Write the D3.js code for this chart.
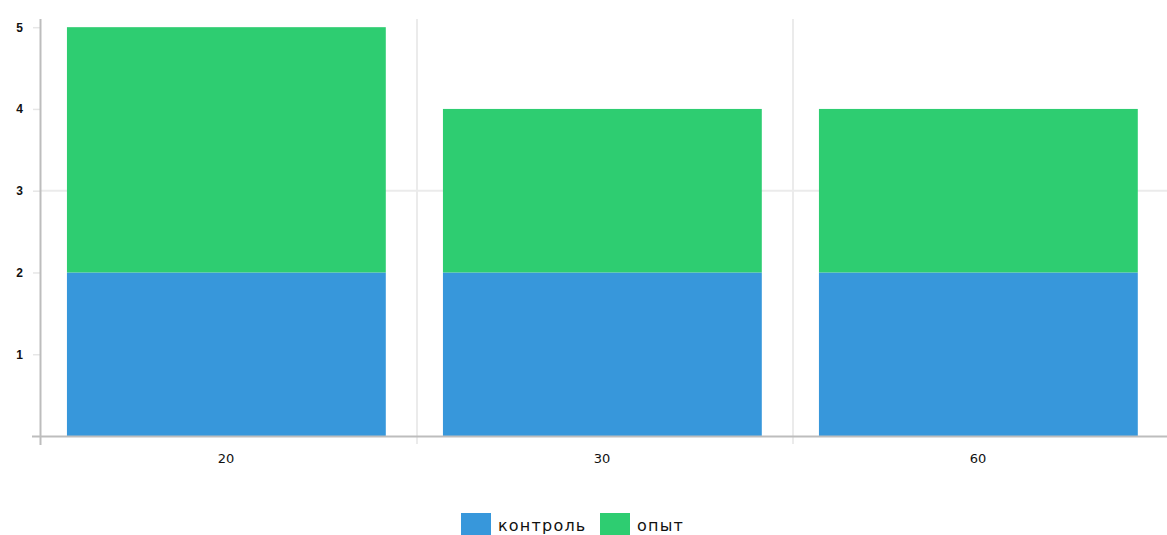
<!DOCTYPE html>
<html><head><meta charset="utf-8">
<script src="https://cdn.jsdelivr.net/npm/d3@7"></script>
<style>body{margin:0;background:#fff;}svg{display:block;font-family:"Liberation Sans",Arial,sans-serif;}</style>
</head><body>
<svg id="c" width="1167" height="535"></svg>
<script>
const categories = ["20", "30", "60"];
const seriesNames = ["контроль", "опыт"];
const control = [2, 2, 2];
const experiment = [3, 2, 2];
const yTicks = [1, 2, 3, 4, 5];
const colors = ["#3797db", "#2ecd71"];

const svg = d3.select("#c");
const x = d3.scaleBand().domain(categories).range([41, 1169]).padding(0);
const y = d3.scaleLinear().domain([0, 5.1]).range([436, 19]);

const rows = categories.map((c, i) => ({cat: c, "контроль": control[i], "опыт": experiment[i]}));
const stacked = d3.stack().keys(seriesNames)(rows);

// vertical grid between categories
svg.append("g").selectAll("line").data(categories.slice(1)).join("line")
  .attr("x1", d => x(d)).attr("x2", d => x(d))
  .attr("y1", 19).attr("y2", 444)
  .attr("stroke", "#ebebeb").attr("stroke-width", 2);
// horizontal grid
svg.append("line").attr("x1", 41).attr("x2", 1167).attr("y1", y(3)).attr("y2", y(3))
  .attr("stroke", "#ebebeb").attr("stroke-width", 2);

const bw = x.bandwidth();
svg.append("g").selectAll("g").data(stacked).join("g")
  .attr("fill", (d, i) => colors[i])
  .selectAll("rect").data(d => d).join("rect")
  .attr("x", d => x(d.data.cat) + bw * 0.069)
  .attr("width", bw * 0.848)
  .attr("y", d => y(d[1]))
  .attr("height", d => y(d[0]) - y(d[1]));

// y axis
const yAxis = svg.append("g").attr("transform", "translate(41,0)")
  .call(d3.axisLeft(y).tickValues(yTicks).tickSize(8).tickPadding(10).tickFormat(d3.format("d")));
yAxis.select(".domain").remove();
yAxis.selectAll(".tick line").attr("stroke", "#e6e6e6").attr("stroke-width", 1.5);
yAxis.selectAll("text").attr("fill", "#111").attr("font-size", 12).attr("font-weight", "bold");
svg.append("line").attr("x1", 40.5).attr("x2", 40.5).attr("y1", 19).attr("y2", 445)
  .attr("stroke", "#bdbdbd").attr("stroke-width", 2);

// x axis
const xAxis = svg.append("g").attr("transform", "translate(-3,437)")
  .call(d3.axisBottom(x).tickSize(0).tickPadding(17));
xAxis.select(".domain").remove();
xAxis.selectAll("text").attr("fill", "#111").attr("font-size", 13).attr("font-family", "DejaVu Sans");
svg.append("line").attr("x1", 32).attr("x2", 1167).attr("y1", 436.5).attr("y2", 436.5)
  .attr("stroke", "#bdbdbd").attr("stroke-width", 2);

// legend
const legendX = [461, 600];
const lg = svg.append("g").selectAll("g").data(seriesNames).join("g")
  .attr("transform", (d, i) => `translate(${legendX[i]},513)`);
lg.append("rect").attr("width", 30).attr("height", 24).attr("fill", (d, i) => colors[i]);
lg.append("text").attr("x", 37).attr("y", 18).attr("font-size", 16).attr("fill", "#111")
  .attr("font-family", "DejaVu Sans").attr("letter-spacing", 1.2).text(d => d);
</script>
</body></html>
